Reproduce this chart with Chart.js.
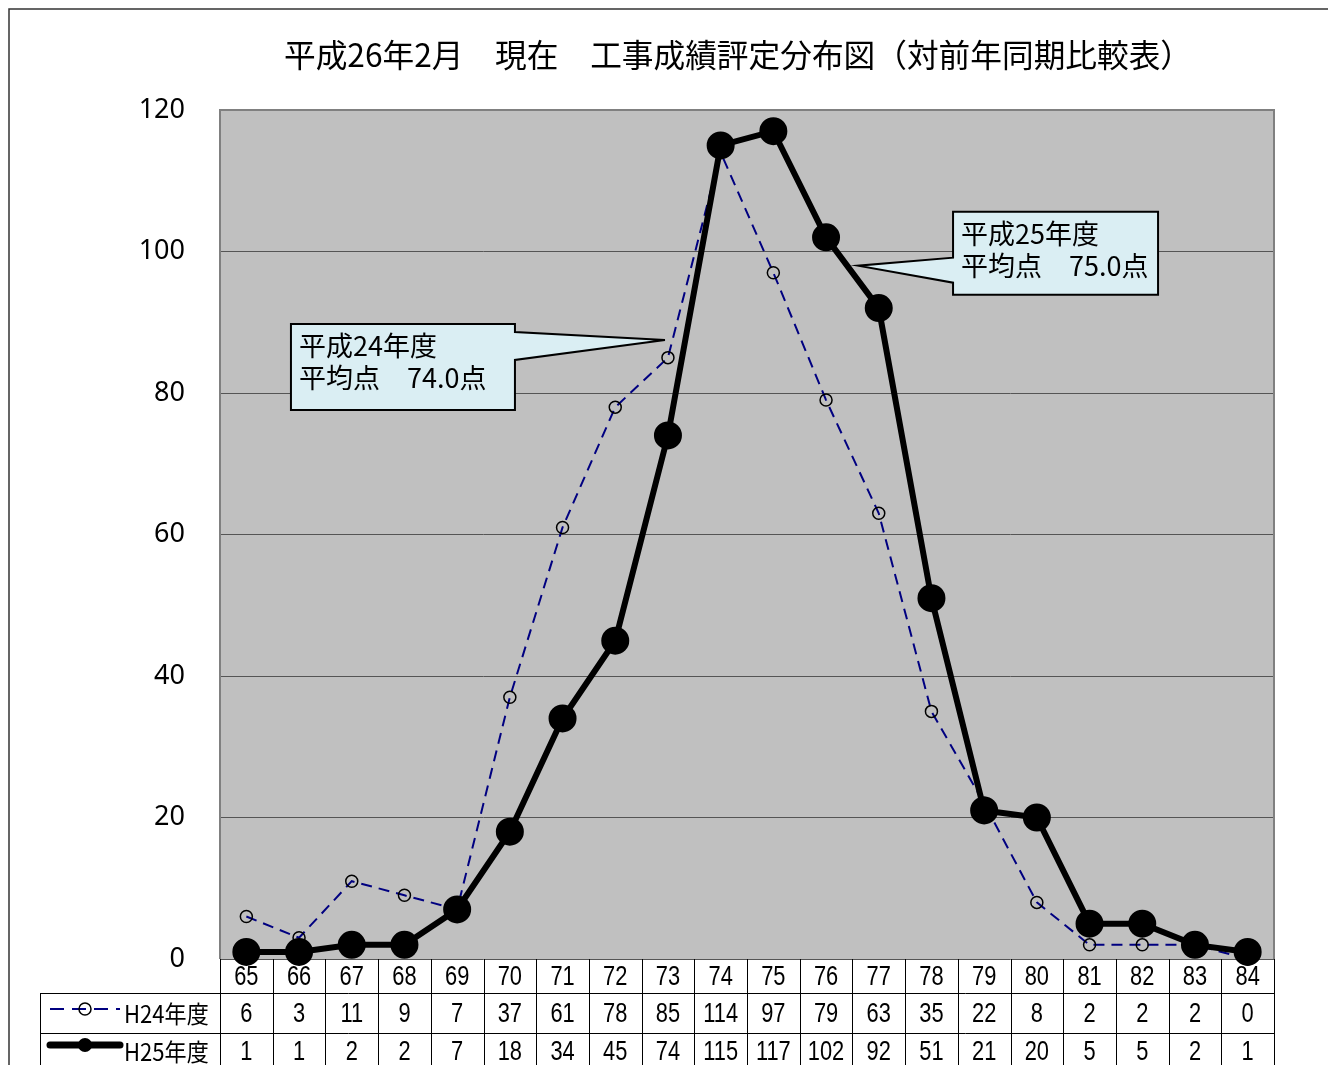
<!DOCTYPE html>
<html lang="ja">
<head>
    <meta charset="UTF-8">
    <title>工事成績評定分布図</title>
    <script src="https://cdn.jsdelivr.net/npm/chart.js"></script>
    <style>
        * {
            padding: 0px;
            margin: 0px;
            box-sizing: border-box;
        }

        body {
            background-color: #ffffff;
        }

        .chart-container {
            width: 1328px;
            height: 1065px;
            position: relative;
        }
    </style>
</head>

<body>
    <div class="chart-container">
        <canvas id="chart1"></canvas>
    </div>

    <script>
        const title = '平成26年2月　現在　工事成績評定分布図（対前年同期比較表）';
        const categories = ['65', '66', '67', '68', '69', '70', '71', '72', '73', '74',
                            '75', '76', '77', '78', '79', '80', '81', '82', '83', '84'];
        const h24 = [6, 3, 11, 9, 7, 37, 61, 78, 85, 114, 97, 79, 63, 35, 22, 8, 2, 2, 2, 0];
        const h25 = [1, 1, 2, 2, 7, 18, 34, 45, 74, 115, 117, 102, 92, 51, 21, 20, 5, 5, 2, 1];
        const seriesNames = ['H24年度', 'H25年度'];
        const yMax = 120;
        const yStep = 20;
        const note24 = ['平成24年度', '平均点　74.0点'];
        const note25 = ['平成25年度', '平均点　75.0点'];

        const cjk = '"Noto Sans CJK JP", "Noto Sans", sans-serif';
        const sans = '"Liberation Sans", Arial, sans-serif';

        // draws text squeezed sideways, like the narrow font of the original
        function narrowText(ctx, text, x, y, sx) {
            ctx.save();
            ctx.translate(x, y);
            ctx.scale(sx, 1);
            ctx.fillText(text, 0, 0);
            ctx.restore();
        }

        // gray plot background + frame
        const plotBg = {
            id: 'plotBg',
            beforeDraw(chart) {
                const { ctx, chartArea: a } = chart;
                ctx.save();
                ctx.fillStyle = '#ffffff';
                ctx.fillRect(0, 0, chart.width, chart.height);
                // outer frame
                ctx.strokeStyle = '#333333';
                ctx.lineWidth = 1.5;
                ctx.beginPath();
                ctx.moveTo(9, chart.height);
                ctx.lineTo(9, 9);
                ctx.lineTo(chart.width, 9);
                ctx.stroke();
                ctx.fillStyle = '#c0c0c0';
                ctx.fillRect(a.left, a.top, a.right - a.left, a.bottom - a.top);
                // title
                ctx.fillStyle = '#000000';
                ctx.font = '32px ' + cjk;
                ctx.textAlign = 'center';
                ctx.textBaseline = 'middle';
                narrowText(ctx, title, 738, 55, 0.99);
                ctx.restore();
            },
            afterDraw(chart) {
                const { ctx, chartArea: a } = chart;
                ctx.save();
                ctx.strokeStyle = '#808080';
                ctx.lineWidth = 2;
                ctx.beginPath();
                ctx.moveTo(a.left, a.bottom);
                ctx.lineTo(a.left, a.top);
                ctx.lineTo(a.right, a.top);
                ctx.lineTo(a.right, a.bottom);
                ctx.stroke();
                ctx.restore();
            }
        };

        // data table under the plot
        const dataTable = {
            id: 'dataTable',
            afterDraw(chart) {
                const { ctx, chartArea: a } = chart;
                const x = chart.scales.x;
                const step = (a.right - a.left) / categories.length;
                const r0 = a.bottom, r1 = r0 + 34, r2 = r1 + 40, r3 = chart.height;
                const labelLeft = 40;
                ctx.save();
                ctx.strokeStyle = '#000000';
                ctx.lineWidth = 1;
                ctx.beginPath();
                for (let i = 0; i <= categories.length; i++) {
                    const px = Math.round(a.left + i * step) + 0.5;
                    ctx.moveTo(px, r0);
                    ctx.lineTo(px, r3);
                }
                ctx.moveTo(labelLeft + 0.5, r1);
                ctx.lineTo(labelLeft + 0.5, r3);
                ctx.moveTo(labelLeft, r1 + 0.5);
                ctx.lineTo(a.right, r1 + 0.5);
                ctx.moveTo(labelLeft, r2 + 0.5);
                ctx.lineTo(a.right, r2 + 0.5);
                ctx.stroke();

                ctx.fillStyle = '#000000';
                ctx.font = '28px ' + sans;
                ctx.textAlign = 'center';
                ctx.textBaseline = 'middle';
                categories.forEach((c, i) => {
                    const px = x.getPixelForValue(i);
                    narrowText(ctx, c, px, (r0 + r1) / 2 + 1, 0.78);
                    narrowText(ctx, String(h24[i]), px, (r1 + r2) / 2 + 1, 0.78);
                    narrowText(ctx, String(h25[i]), px, (r2 + r3) / 2 + 3, 0.78);
                });

                // legend keys
                const y1 = (r1 + r2) / 2 - 4, y2 = (r2 + r3) / 2 - 4;
                ctx.strokeStyle = '#000080';
                ctx.lineWidth = 2;
                ctx.setLineDash([14, 8]);
                ctx.beginPath();
                ctx.moveTo(50, y1);
                ctx.lineTo(120, y1);
                ctx.stroke();
                ctx.setLineDash([]);
                ctx.strokeStyle = '#000000';
                ctx.lineWidth = 1.5;
                ctx.beginPath();
                ctx.arc(85, y1, 6, 0, Math.PI * 2);
                ctx.stroke();

                ctx.lineWidth = 7;
                ctx.lineCap = 'round';
                ctx.beginPath();
                ctx.moveTo(50, y2);
                ctx.lineTo(120, y2);
                ctx.stroke();
                ctx.beginPath();
                ctx.arc(85, y2, 7, 0, Math.PI * 2);
                ctx.fill();

                ctx.textAlign = 'left';
                ctx.font = '24px ' + cjk;
                narrowText(ctx, seriesNames[0], 124, (r1 + r2) / 2 + 1, 0.92);
                narrowText(ctx, seriesNames[1], 124, (r2 + r3) / 2 + 3, 0.92);
                ctx.restore();
            }
        };

        function drawNote(ctx, lines, tip, box, base) {
            ctx.beginPath();
            ctx.moveTo(box.x, box.y);
            if (base.side === 'right') {
                ctx.lineTo(box.x + box.w, box.y);
                ctx.lineTo(box.x + box.w, base.y0);
                ctx.lineTo(tip.x, tip.y);
                ctx.lineTo(box.x + box.w, base.y1);
                ctx.lineTo(box.x + box.w, box.y + box.h);
                ctx.lineTo(box.x, box.y + box.h);
            } else {
                ctx.lineTo(box.x + box.w, box.y);
                ctx.lineTo(box.x + box.w, box.y + box.h);
                ctx.lineTo(box.x, box.y + box.h);
                ctx.lineTo(box.x, base.y1);
                ctx.lineTo(tip.x, tip.y);
                ctx.lineTo(box.x, base.y0);
            }
            ctx.closePath();
            ctx.fillStyle = '#daeef3';
            ctx.fill();
            ctx.strokeStyle = '#000000';
            ctx.lineWidth = 2;
            ctx.stroke();
            ctx.fillStyle = '#000000';
            ctx.font = '27px ' + cjk;
            ctx.textAlign = 'left';
            ctx.textBaseline = 'alphabetic';
            ctx.fillText(lines[0], box.x + 8, box.y + 32);
            ctx.fillText(lines[1], box.x + 8, box.y + 64);
        }

        // callout boxes for average scores
        const callouts = {
            id: 'callouts',
            afterDatasetsDraw(chart) {
                const { ctx } = chart;
                const x = chart.scales.x, y = chart.scales.y;
                ctx.save();
                const t1 = { x: x.getPixelForValue(8) - 3, y: y.getPixelForValue(87.5) };
                drawNote(ctx, note24, t1,
                    { x: t1.x - 374, y: t1.y - 16, w: 224, h: 86 },
                    { side: 'right', y0: t1.y - 8, y1: t1.y + 20 });
                const t2 = { x: x.getPixelForValue(11) + 32, y: y.getPixelForValue(98) };
                drawNote(ctx, note25, t2,
                    { x: t2.x + 95, y: t2.y - 54, w: 205, h: 83 },
                    { side: 'left', y0: t2.y - 8, y1: t2.y + 17 });
                ctx.restore();
            }
        };

        const ctx = document.getElementById('chart1').getContext('2d');
        new Chart(ctx, {
            type: 'line',
            data: {
                labels: categories,
                datasets: [{
                    label: seriesNames[1],
                    data: h25,
                    borderColor: '#000000',
                    borderWidth: 6,
                    pointRadius: 11,
                    pointBackgroundColor: '#000000',
                    pointBorderColor: '#000000',
                    tension: 0,
                    clip: false,
                    order: 0
                }, {
                    label: seriesNames[0],
                    data: h24,
                    borderColor: '#000080',
                    borderWidth: 2,
                    borderDash: [11, 7],
                    pointRadius: 6,
                    pointBorderWidth: 1.5,
                    pointBackgroundColor: 'rgba(0,0,0,0)',
                    pointBorderColor: '#000000',
                    tension: 0,
                    clip: false,
                    order: 1
                }]
            },
            options: {
                responsive: true,
                maintainAspectRatio: false,
                animation: false,
                layout: {
                    padding: { left: 0, top: 110, right: 54, bottom: 106 }
                },
                plugins: {
                    legend: { display: false },
                    title: { display: false },
                    tooltip: { enabled: false }
                },
                scales: {
                    x: {
                        display: false,
                        offset: true
                    },
                    y: {
                        min: 0,
                        max: yMax,
                        afterFit(scale) { scale.width = 220; },
                        ticks: {
                            stepSize: yStep,
                            padding: 35,
                            color: '#000000',
                            font: { family: '"Noto Sans", sans-serif', size: 27 }
                        },
                        grid: {
                            color: '#555555',
                            lineWidth: 1,
                            drawTicks: false
                        },
                        border: { display: false }
                    }
                }
            },
            plugins: [plotBg, dataTable, callouts]
        });
    </script>
</body>
</html>
